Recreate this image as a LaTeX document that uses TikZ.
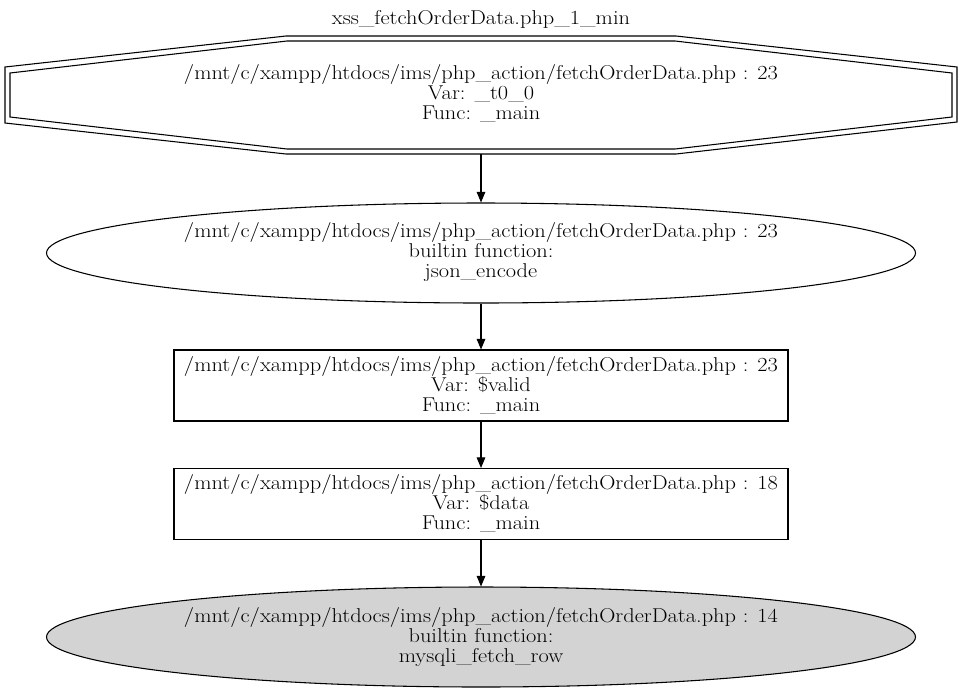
\documentclass[tikz,border=0pt]{standalone}
\usepackage{fontspec}
\newfontfamily\lblfont{Latin Modern Roman}[FakeStretch=1.12]
\usetikzlibrary{shapes.geometric,arrows.meta}
\definecolor{lgray}{HTML}{D3D3D3}
\begin{document}
\begin{tikzpicture}[x=0.75pt,y=-0.75pt,
  lbl/.style={font=\lblfont\fontsize{15}{15}\selectfont, align=center, inner sep=0pt},
  ellnode/.style={draw, ellipse, minimum width=651.75pt, minimum height=75pt, inner sep=0pt, line width=0.8pt},
  boxnode/.style={draw, rectangle, minimum width=460.5pt, minimum height=53.25pt, inner sep=0pt, line width=0.8pt},
  edge/.style={draw, line width=0.8pt, -{Triangle[length=8pt,width=6.5pt]}}]
\useasboundingbox (0,0) rectangle (962,693);
\node[lbl] (title) at (481,19) {xss\_fetchOrderData.php\_1\_min};
% octagon (double outline)
\draw[line width=0.8pt] (286,36) -- (676,36) -- (957,67) -- (957,122) -- (676,154) -- (286,154) -- (5,123) -- (5,67) -- cycle;
\draw[line width=0.8pt] (287,41) -- (675,41) -- (952,73) -- (952,117) -- (675,149) -- (287,149) -- (10,117) -- (10,73) -- cycle;
\node[minimum width=714pt, minimum height=88.5pt, inner sep=0pt] (oct) at (481,95) {};
\node[lbl] (octtext) at (481,93) {/mnt/c/xampp/htdocs/ims/php\_action/fetchOrderData.php : 23\\Var: \_t0\_0\\Func: \_main};
\node[ellnode] (json) at (481,253) {};
\node[lbl] at (481,252) {/mnt/c/xampp/htdocs/ims/php\_action/fetchOrderData.php : 23\\builtin function:\\json\_encode};
\node[boxnode] (valid) at (481,385.5) {};
\node[lbl] at (481,385) {/mnt/c/xampp/htdocs/ims/php\_action/fetchOrderData.php : 23\\Var: \$valid\\Func: \_main};
\node[boxnode] (data) at (481,504) {};
\node[lbl] at (481,503) {/mnt/c/xampp/htdocs/ims/php\_action/fetchOrderData.php : 18\\Var: \$data\\Func: \_main};
\node[ellnode, fill=lgray] (fetch) at (481,637) {};
\node[lbl] at (481,637) {/mnt/c/xampp/htdocs/ims/php\_action/fetchOrderData.php : 14\\builtin function:\\mysqli\_fetch\_row};
\path[edge] (oct.south) -- (json.north);
\path[edge] (json.south) -- (valid.north);
\path[edge] (valid.south) -- (data.north);
\path[edge] (data.south) -- (fetch.north);
\end{tikzpicture}
\end{document}
